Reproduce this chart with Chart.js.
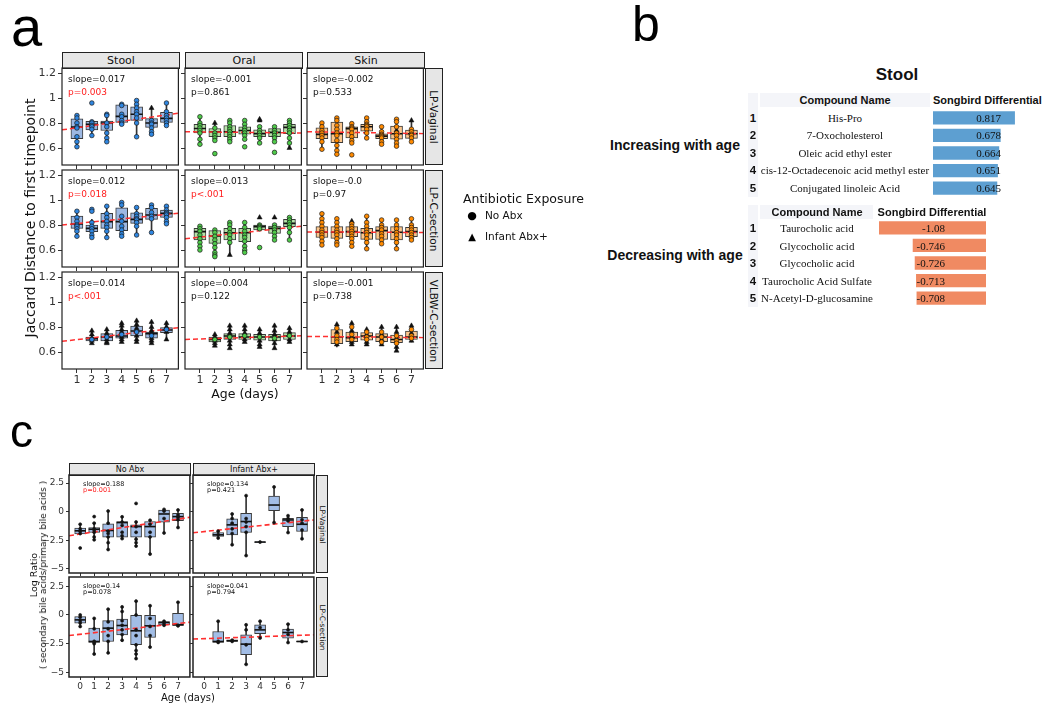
<!DOCTYPE html>
<html>
<head>
<meta charset="utf-8">
<script src="https://cdn.jsdelivr.net/npm/chart.js@4.4.1/dist/chart.umd.min.js"></script>
<style>
body { margin: 0; background: #fff; }
#fig { position: relative; width: 1050px; height: 709px; overflow: hidden; font-family: 'DejaVu Sans', sans-serif; }
#fig canvas { position: absolute; }
.t { position: absolute; white-space: nowrap; line-height: 1; }
.strip { position: absolute; background: #e6e6e6; border: 1px solid #222; box-sizing: border-box;
         display: flex; align-items: center; justify-content: center; color: #111; white-space: nowrap; }
.cell { position: absolute; background: #f4f5f9; }
</style>
</head>
<body>
<div id="fig"></div>
<script>
// ---- data: panel a (Jaccard distance to first timepoint) ----
const days = [1, 2, 3, 4, 5, 6, 7];
const yTicksA = [0.6, 0.8, 1, 1.2];
const colNamesA = ['Stool', 'Oral', 'Skin'];
const rowNamesA = ['LP-Vaginal', 'LP-C-section', 'VLBW-C-section'];

const stoolVag = {
  q1:  [0.674, 0.745, 0.74, 0.805, 0.82, 0.765, 0.805],
  med: [0.767, 0.79, 0.80, 0.853, 0.87, 0.80, 0.837],
  q3:  [0.834, 0.813, 0.815, 0.945, 0.93, 0.835, 0.885],
  lo:  [0.60, 0.69, 0.65, 0.79, 0.69, 0.71, 0.77],
  hi:  [0.86, 0.82, 0.87, 0.955, 0.98, 0.92, 0.96],
  dots: [[0.86, 0.84, 0.80, 0.77, 0.76, 0.69, 0.65, 0.61], [0.96, 0.81, 0.80, 0.78, 0.77, 0.75, 0.70],
         [0.87, 0.86, 0.80, 0.77, 0.72, 0.68, 0.65], [0.95, 0.94, 0.87, 0.85, 0.82, 0.80, 0.79],
         [0.98, 0.95, 0.92, 0.89, 0.87, 0.84, 0.80, 0.69], [0.82, 0.80, 0.79, 0.76, 0.73, 0.71],
         [0.96, 0.89, 0.86, 0.84, 0.82, 0.80, 0.78]],
  tri: [[], [], [], [], [], [0.92], []],
  fit: [0.745, 0.878], slope: 'slope=0.017', p: 'p=0.003', sig: true
};
const oralVag = {
  q1:  [0.72, 0.69, 0.69, 0.71, 0.69, 0.69, 0.715],
  med: [0.756, 0.73, 0.73, 0.74, 0.715, 0.725, 0.765],
  q3:  [0.79, 0.756, 0.78, 0.77, 0.745, 0.755, 0.79],
  lo:  [0.63, 0.66, 0.65, 0.67, 0.64, 0.65, 0.60],
  hi:  [0.85, 0.80, 0.82, 0.82, 0.775, 0.77, 0.83],
  dots: [[0.85, 0.80, 0.78, 0.76, 0.74, 0.72, 0.67, 0.63], [0.76, 0.72, 0.70, 0.68, 0.66, 0.555],
         [0.82, 0.80, 0.77, 0.75, 0.73, 0.71, 0.69, 0.67, 0.65], [0.82, 0.79, 0.76, 0.74, 0.72, 0.70, 0.67, 0.61],
         [0.77, 0.74, 0.72, 0.70, 0.68, 0.64], [0.77, 0.74, 0.72, 0.70, 0.68, 0.65, 0.565],
         [0.82, 0.80, 0.78, 0.76, 0.74, 0.72, 0.68, 0.64]],
  tri: [[], [0.80], [], [], [0.83, 0.82], [], [0.60]],
  fit: [0.73, 0.72], slope: 'slope=-0.001', p: 'p=0.861', sig: false
};
const skinVag = {
  q1:  [0.674, 0.642, 0.68, 0.735, 0.674, 0.67, 0.677],
  med: [0.709, 0.714, 0.755, 0.77, 0.695, 0.714, 0.714],
  q3:  [0.762, 0.807, 0.77, 0.79, 0.714, 0.775, 0.743],
  lo:  [0.59, 0.55, 0.64, 0.675, 0.63, 0.615, 0.647],
  hi:  [0.807, 0.847, 0.795, 0.84, 0.77, 0.83, 0.82],
  dots: [[0.80, 0.77, 0.74, 0.72, 0.70, 0.68, 0.65, 0.59], [0.84, 0.82, 0.78, 0.75, 0.72, 0.70, 0.66, 0.62, 0.58, 0.55],
         [0.795, 0.77, 0.76, 0.75, 0.72, 0.69, 0.66, 0.64, 0.545], [0.84, 0.81, 0.79, 0.78, 0.77, 0.75, 0.72, 0.68],
         [0.77, 0.73, 0.71, 0.70, 0.69, 0.68, 0.65, 0.63], [0.83, 0.81, 0.77, 0.72, 0.70, 0.67, 0.64, 0.615],
         [0.75, 0.73, 0.71, 0.70, 0.68, 0.65]],
  tri: [[], [], [], [], [], [0.74], [0.82]],
  fit: [0.73, 0.715], slope: 'slope=-0.002', p: 'p=0.533', sig: false
};
const stoolCs = {
  q1:  [0.773, 0.747, 0.773, 0.755, 0.813, 0.845, 0.861],
  med: [0.808, 0.773, 0.827, 0.827, 0.845, 0.88, 0.893],
  q3:  [0.872, 0.80, 0.893, 0.938, 0.898, 0.933, 0.92],
  lo:  [0.712, 0.70, 0.70, 0.712, 0.72, 0.74, 0.813],
  hi:  [0.912, 0.845, 0.952, 0.98, 0.938, 0.965, 0.955],
  dots: [[0.91, 0.86, 0.83, 0.80, 0.79, 0.77, 0.75, 0.71], [0.925, 0.91, 0.82, 0.79, 0.77, 0.75, 0.72, 0.70],
         [0.95, 0.89, 0.86, 0.83, 0.80, 0.78, 0.75, 0.70], [0.98, 0.96, 0.87, 0.83, 0.79, 0.76, 0.73, 0.71],
         [0.94, 0.89, 0.87, 0.85, 0.84, 0.82, 0.79, 0.72], [0.96, 0.94, 0.90, 0.87, 0.85, 0.74],
         [0.95, 0.92, 0.90, 0.89, 0.88, 0.86, 0.83, 0.81]],
  tri: [[], [], [], [], [], [], []],
  fit: [0.80, 0.894], slope: 'slope=0.012', p: 'p=0.018', sig: true
};
const oralCs = {
  q1:  [0.68, 0.653, 0.68, 0.667, 0.76, 0.733, 0.787],
  med: [0.747, 0.712, 0.738, 0.738, 0.787, 0.773, 0.813],
  q3:  [0.773, 0.755, 0.773, 0.773, 0.80, 0.792, 0.845],
  lo:  [0.60, 0.547, 0.56, 0.578, 0.76, 0.68, 0.68],
  hi:  [0.792, 0.76, 0.827, 0.827, 0.80, 0.80, 0.86],
  dots: [[0.79, 0.77, 0.75, 0.72, 0.69, 0.66, 0.63, 0.60], [0.76, 0.74, 0.71, 0.68, 0.65, 0.62, 0.58, 0.56, 0.547],
         [0.82, 0.80, 0.77, 0.74, 0.72, 0.69, 0.66], [0.82, 0.78, 0.75, 0.72, 0.70, 0.67, 0.63, 0.60, 0.58],
         [0.80, 0.79, 0.78, 0.77, 0.62], [0.80, 0.78, 0.76, 0.74, 0.71, 0.68],
         [0.86, 0.84, 0.82, 0.80, 0.78, 0.74, 0.68]],
  tri: [[], [], [0.56], [], [0.86], [0.86], []],
  fit: [0.69, 0.79], slope: 'slope=0.013', p: 'p<.001', sig: true
};
const skinCs = {
  q1:  [0.70, 0.693, 0.707, 0.685, 0.685, 0.68, 0.707],
  med: [0.742, 0.742, 0.747, 0.738, 0.755, 0.742, 0.747],
  q3:  [0.787, 0.787, 0.787, 0.773, 0.787, 0.787, 0.782],
  lo:  [0.626, 0.64, 0.626, 0.613, 0.648, 0.613, 0.675],
  hi:  [0.893, 0.853, 0.832, 0.867, 0.84, 0.84, 0.853],
  dots: [[0.89, 0.85, 0.82, 0.79, 0.76, 0.74, 0.72, 0.70, 0.67, 0.64], [0.85, 0.82, 0.79, 0.76, 0.74, 0.72, 0.69, 0.66, 0.64],
         [0.81, 0.79, 0.77, 0.75, 0.73, 0.71, 0.69, 0.66, 0.63], [0.87, 0.82, 0.79, 0.76, 0.74, 0.72, 0.69, 0.66, 0.61],
         [0.84, 0.80, 0.78, 0.76, 0.73, 0.71, 0.68, 0.65], [0.84, 0.80, 0.77, 0.74, 0.72, 0.69, 0.66, 0.61],
         [0.85, 0.80, 0.78, 0.76, 0.74, 0.72, 0.70, 0.68]],
  tri: [[], [], [0.83], [], [], [], []],
  fit: [0.745, 0.74], slope: 'slope=-0.0', p: 'p=0.97', sig: false
};
const stoolVlbw = {
  q1:  [null, 0.688, 0.688, 0.71, 0.728, 0.71, 0.755],
  med: [null, 0.707, 0.72, 0.728, 0.768, 0.747, 0.776],
  q3:  [null, 0.72, 0.747, 0.773, 0.808, 0.76, 0.795],
  lo:  [null, 0.667, 0.667, 0.675, 0.683, 0.667, 0.696],
  hi:  [null, 0.768, 0.78, 0.835, 0.853, 0.84, 0.84],
  dots: [[], [0.70], [0.72], [0.74], [0.76], [0.73], [0.78]],
  tri: [[], [0.77, 0.74, 0.71, 0.69, 0.67], [0.78, 0.75, 0.73, 0.70, 0.68, 0.67],
        [0.83, 0.81, 0.78, 0.76, 0.72, 0.70, 0.68], [0.85, 0.82, 0.79, 0.77, 0.73, 0.70, 0.68],
        [0.84, 0.80, 0.77, 0.75, 0.71, 0.69, 0.67], [0.83, 0.80, 0.79, 0.76, 0.70]],
  fit: [0.685, 0.794], slope: 'slope=0.014', p: 'p<.001', sig: true
};
const oralVlbw = {
  q1:  [null, 0.68, 0.70, 0.70, 0.694, 0.688, 0.70],
  med: [null, 0.70, 0.728, 0.72, 0.72, 0.72, 0.728],
  q3:  [null, 0.72, 0.747, 0.747, 0.741, 0.741, 0.755],
  lo:  [null, 0.648, 0.63, 0.675, 0.64, 0.63, 0.675],
  hi:  [null, 0.741, 0.808, 0.816, 0.78, 0.808, 0.795],
  dots: [[], [0.70], [0.72], [0.73], [0.72], [0.71], [0.73]],
  tri: [[], [0.74, 0.72, 0.69, 0.67, 0.65], [0.81, 0.78, 0.75, 0.73, 0.69, 0.66, 0.63],
        [0.81, 0.78, 0.75, 0.70, 0.68], [0.78, 0.75, 0.73, 0.69, 0.66, 0.64],
        [0.81, 0.77, 0.74, 0.70, 0.67, 0.63], [0.79, 0.76, 0.74, 0.70, 0.68]],
  fit: [0.70, 0.73], slope: 'slope=0.004', p: 'p=0.122', sig: false
};
const skinVlbw = {
  q1:  [null, 0.667, 0.683, 0.694, 0.683, 0.675, 0.70],
  med: [null, 0.72, 0.715, 0.728, 0.72, 0.70, 0.72],
  q3:  [null, 0.78, 0.76, 0.755, 0.747, 0.736, 0.768],
  lo:  [null, 0.64, 0.661, 0.661, 0.656, 0.608, 0.68],
  hi:  [null, 0.82, 0.835, 0.78, 0.80, 0.80, 0.808],
  dots: [[], [0.79, 0.73, 0.70, 0.68], [0.80, 0.74, 0.70], [0.76, 0.72, 0.70], [0.76, 0.72, 0.68],
         [0.73, 0.69, 0.67], [0.78, 0.73, 0.71]],
  tri: [[], [0.82, 0.76, 0.66], [0.83, 0.77, 0.72, 0.68, 0.66], [0.78, 0.74, 0.68, 0.66],
        [0.80, 0.74, 0.70, 0.66], [0.80, 0.76, 0.71, 0.64, 0.61], [0.81, 0.75, 0.69]],
  fit: [0.725, 0.715], slope: 'slope=-0.001', p: 'p=0.738', sig: false
};

// ---- data: panel b (Songbird differentials, stool) ----
const upNames = ['His-Pro', '7-Oxocholesterol', 'Oleic acid ethyl ester',
                 'cis-12-Octadecenoic acid methyl ester', 'Conjugated linoleic Acid'];
const upVals = [0.817, 0.678, 0.664, 0.651, 0.645];
const downNames = ['Taurocholic acid', 'Glycocholic acid', 'Glycocholic acid',
                   'Taurocholic Acid Sulfate', 'N-Acetyl-D-glucosamine'];
const downVals = [-1.08, -0.746, -0.726, -0.713, -0.708];

// ---- data: panel c (log ratio secondary / primary bile acids) ----
const daysC = [0, 1, 2, 3, 4, 5, 6, 7];
const yTicksC = [-5, -2.5, 0, 2.5];
const colNamesC = ['No Abx', 'Infant Abx+'];
const rowNamesC = ['LP-Vaginal', 'LP-C-section'];

const cNoAbxVag = {
  q1:  [-1.93, -1.82, -2.22, -2.22, -2.22, -2.22, -0.92, -0.78],
  med: [-1.67, -1.53, -1.64, -0.95, -1.30, -1.30, -0.20, -0.43],
  q3:  [-1.44, -1.38, -1.07, -0.86, -1.15, -0.86, 0.14, -0.14],
  lo:  [-2.02, -2.45, -3.31, -2.36, -2.97, -3.69, -1.87, -1.38],
  hi:  [-1.07, -1.00, 0.09, -0.43, -0.86, -0.72, 0.23, 0.20],
  dots: [[-1.1, -1.5, -1.7, -1.9, -3.17], [-0.43, -1.0, -1.5, -1.6, -1.8, -2.2, -2.45], [0.05, -1.0, -1.7, -1.9, -2.2, -2.7, -3.3],
         [-0.45, -0.9, -1.2, -1.8, -2.1, -2.35], [0.72, -0.9, -1.3, -1.8, -2.4, -2.7, -3.0], [-0.75, -1.1, -1.8, -2.2, -3.7],
         [0.2, 0.05, -0.6, -1.85], [0.15, -0.3, -0.5, -0.7, -1.38]],
  fit: [-2.1, -0.49], slope: 'slope=0.188', p: 'p=0.001', sig: true
};
const cAbxVag = {
  q1:  [null, -2.16, -2.02, -1.82, -2.68, 0.09, -1.30, -1.73],
  med: [null, -2.02, -1.15, -0.86, -2.65, 0.58, -0.72, -1.10],
  q3:  [null, -1.82, -0.63, -0.14, -2.62, 1.35, -0.58, -0.49],
  lo:  [null, -2.36, -2.88, -3.83, -2.65, -0.95, -1.82, -2.36],
  hi:  [null, -1.64, -0.14, 1.44, -2.65, 2.16, -0.35, 0.20],
  dots: [[], [-1.7, -2.0, -2.3], [-0.2, -0.6, -1.0, -1.5, -1.9, -2.88], [1.4, -0.6, -0.9, -1.3, -1.8, -3.83], [-2.65],
         [2.16, -0.95], [-0.35, -0.6, -0.8, -1.82], [0.15, -0.7, -1.0, -1.6, -2.36]],
  fit: [-1.84, -0.72], slope: 'slope=0.134', p: 'p=0.421', sig: false
};
const cNoAbxCs = {
  q1:  [-0.72, -2.39, -2.31, -1.73, -2.59, -1.96, -0.86, -0.92],
  med: [-0.43, -2.31, -1.15, -0.92, -1.38, -0.95, -0.66, -0.86],
  q3:  [-0.14, -1.15, -0.49, -0.37, 0, 0, -0.58, 0.14],
  lo:  [-1.07, -3.46, -3.31, -2.31, -3.89, -2.80, -0.95, -0.95],
  hi:  [0, -0.23, 0.52, 0.78, 1.30, 0.86, -0.50, 1.15],
  dots: [[0, -0.2, -0.5, -0.7, -1.0], [-0.3, -1.2, -2.3, -2.4, -2.5, -3.4], [0.5, -0.6, -1.2, -1.8, -2.3, -3.3],
         [0.7, 0.3, -0.5, -0.9, -1.3, -1.7, -2.2], [1.2, 0, -1.3, -1.8, -2.6, -3.1, -3.4, -3.8], [0.8, -0.3, -1.0, -1.8, -2.8],
         [-0.55, -0.7, -0.9], [1.1, -0.9, -0.95]],
  fit: [-1.79, -0.63], slope: 'slope=0.14', p: 'p=0.078', sig: false
};
const cAbxCs = {
  q1:  [null, -2.39, -2.31, -3.46, -1.64, null, -2.02, -2.34],
  med: [null, -2.31, -2.25, -2.54, -1.30, null, -1.53, -2.31],
  q3:  [null, -1.44, -2.16, -1.73, -0.86, null, -1.24, -2.28],
  lo:  [null, -2.39, -2.31, -4.32, -2.02, null, -2.39, -2.33],
  hi:  [null, -0.52, -2.16, -0.86, -0.52, null, -0.78, -2.29],
  dots: [[], [-0.55, -2.3, -2.39], [-2.2, -2.25, -2.3], [-0.86, -1.3, -2.6, -4.3], [-0.55, -1.1, -2.0], [],
         [-0.8, -1.3, -1.7, -2.4], [-2.31]],
  fit: [-2.1, -1.73], slope: 'slope=0.041', p: 'p=0.794', sig: false
};

// ---- helpers ----
Chart.defaults.font.family = "'DejaVu Sans', sans-serif";
const fig = document.getElementById('fig');

function txt(s, x, y, o) {
  const e = document.createElement('div');
  e.className = 't';
  e.textContent = s;
  e.style.left = x + 'px';
  e.style.top = y + 'px';
  const tx = o.a === 'l' ? '0' : (o.a === 'r' ? '-100%' : '-50%');
  e.style.transform = 'translate(' + tx + ',-50%)' + (o.rot ? ' rotate(' + o.rot + 'deg)' : '');
  e.style.font = o.font;
  e.style.color = o.color || '#111';
  fig.appendChild(e);
  return e;
}

function strip(s, x, y, w, h, font, rot) {
  const e = document.createElement('div');
  e.className = 'strip';
  e.style.left = x + 'px'; e.style.top = y + 'px';
  e.style.width = w + 'px'; e.style.height = h + 'px';
  e.style.font = font;
  const sp = document.createElement('span');
  sp.textContent = s;
  if (rot) sp.style.transform = 'rotate(' + rot + 'deg)';
  e.appendChild(sp);
  fig.appendChild(e);
}

function box(x, y, w, h, cls) {
  const e = document.createElement('div');
  e.className = cls;
  e.style.left = x + 'px'; e.style.top = y + 'px';
  e.style.width = w + 'px'; e.style.height = h + 'px';
  fig.appendChild(e);
}

// frame around the plotting area
const framePlugin = {
  id: 'frame',
  afterDatasetsDraw(chart, args, opts) {
    const { ctx, chartArea: a } = chart;
    ctx.save();
    ctx.strokeStyle = opts.color;
    ctx.lineWidth = opts.width;
    ctx.strokeRect(a.left, a.top, a.right - a.left, a.bottom - a.top);
    ctx.restore();
  }
};

// one facet: boxes (floating bars), whiskers, medians, points, fitted line
function boxPanel(c) {
  const cw = c.w + c.yw + c.pr, ch = c.h + c.pt + c.xh;
  const cv = document.createElement('canvas');
  cv.width = cw; cv.height = ch;
  cv.style.left = (c.left - c.yw) + 'px';
  cv.style.top = (c.top - c.pt) + 'px';
  cv.style.width = cw + 'px'; cv.style.height = ch + 'px';
  fig.appendChild(cv);

  const d = c.data, xs = c.xs;
  const idx = xs.map((x, i) => i).filter(i => d.q1[i] !== null);
  const pts = [], tri = [];
  d.dots.forEach((arr, i) => arr.forEach(v => pts.push({ x: xs[i], y: v })));
  (d.tri || []).forEach((arr, i) => arr.forEach(v => tri.push({ x: xs[i], y: v })));

  const tickFont = { family: "'DejaVu Sans', sans-serif", size: c.fs };
  const grid = { offset: false, drawOnChartArea: false, drawTicks: true, tickLength: c.tl, color: '#333', tickWidth: 1 };

  new Chart(cv, {
    type: 'bar',
    data: {
      datasets: [
        { type: 'scatter', data: pts, pointStyle: 'circle', pointRadius: c.r,
          pointBackgroundColor: c.dot, pointBorderColor: '#1a1a1a', pointBorderWidth: 0.7, order: 1 },
        { type: 'scatter', data: tri, pointStyle: 'triangle', pointRadius: c.r + 0.6,
          pointBackgroundColor: '#111', pointBorderColor: '#111', pointBorderWidth: 0.5, order: 1 },
        { type: 'line', data: [{ x: c.xMin, y: d.fit[0] }, { x: c.xMax, y: d.fit[1] }],
          borderColor: '#ff3030', borderWidth: c.lw, borderDash: [5, 3], pointRadius: 0, order: 2 },
        { type: 'scatter', data: idx.map(i => ({ x: xs[i], y: d.med[i] })), pointStyle: 'line',
          pointRadius: c.bw / 2, pointBorderColor: '#111', pointBorderWidth: 1.6, order: 3 },
        { data: idx.map(i => ({ x: xs[i], y: [d.q1[i], d.q3[i]] })), backgroundColor: c.fill,
          borderColor: '#3a3a3a', borderWidth: 1, borderSkipped: false, barThickness: c.bw, grouped: false, order: 4 },
        { data: idx.map(i => ({ x: xs[i], y: [d.lo[i], d.hi[i]] })), backgroundColor: '#333',
          barThickness: 1, grouped: false, order: 5 }
      ]
    },
    options: {
      responsive: false, animation: false, events: [],
      layout: { padding: { top: c.pt, right: c.pr, left: 0, bottom: 0 } },
      plugins: { legend: { display: false }, tooltip: { enabled: false }, frame: { color: '#222', width: c.fw } },
      scales: {
        x: {
          type: 'linear', min: c.xMin, max: c.xMax, offset: false,
          afterBuildTicks: s => { s.ticks = c.xTicks.map(v => ({ value: v })); },
          afterFit: s => { s.height = c.xh; },
          grid: grid, border: { display: false },
          ticks: { display: c.showX, padding: 1, color: '#333', font: tickFont, maxRotation: 0, autoSkip: false }
        },
        y: {
          type: 'linear', min: c.yMin, max: c.yMax,
          afterBuildTicks: s => { s.ticks = c.yTicks.map(v => ({ value: v })); },
          afterFit: s => { s.width = c.yw; },
          grid: grid, border: { display: false },
          ticks: { display: c.showY, padding: 2, color: '#333', font: tickFont, autoSkip: false, callback: c.fmt }
        }
      }
    },
    plugins: [framePlugin]
  });
}

// horizontal bars of the differential tables
function diffBars(vals, left, top, w, h, min, max, color) {
  const cv = document.createElement('canvas');
  cv.width = w; cv.height = h;
  cv.style.left = left + 'px'; cv.style.top = top + 'px';
  cv.style.width = w + 'px'; cv.style.height = h + 'px';
  fig.appendChild(cv);
  new Chart(cv, {
    type: 'bar',
    data: {
      labels: vals.map((v, i) => String(i + 1)),
      datasets: [{ data: vals, backgroundColor: color, borderColor: 'rgba(255,255,255,0.6)', borderWidth: 1,
                   borderSkipped: false, categoryPercentage: 1, barPercentage: 0.87 }]
    },
    options: {
      indexAxis: 'y', responsive: false, animation: false, events: [],
      layout: { padding: 0 },
      plugins: { legend: { display: false }, tooltip: { enabled: false } },
      scales: { x: { display: false, min: min, max: max }, y: { display: false } }
    }
  });
}

// ================= panel a =================
txt('a', 11, 26, { a: 'l', font: '56px "Liberation Sans", Arial, sans-serif', color: '#000' });
const aCols = [62, 185, 307], aRows = [68, 170, 272];
const aW = 118, aH = 97;
const aFill = ['#9db8e2', '#b6e2a8', '#fcc68c'];
const aDot = ['#2f86e0', '#4fcb4a', '#ff8a00'];
const aGrid = [[stoolVag, oralVag, skinVag], [stoolCs, oralCs, skinCs], [stoolVlbw, oralVlbw, skinVlbw]];

colNamesA.forEach((n, k) => strip(n, aCols[k], 52, aW, 17, '11px "DejaVu Sans", sans-serif'));
rowNamesA.forEach((n, r) => strip(n, 425, aRows[r], 18, aH, '10.5px "DejaVu Sans", sans-serif', 90));

aGrid.forEach((row, r) => row.forEach((d, k) => {
  boxPanel({
    left: aCols[k], top: aRows[r], w: aW, h: aH, data: d, xs: days,
    xMin: 0, xMax: 7.8, yMin: 0.464, yMax: 1.24, xTicks: days, yTicks: yTicksA,
    showX: r === 2, showY: k === 0, fill: aFill[k], dot: aDot[k], bw: 12, r: 2.3, lw: 1.5,
    yw: 34, pt: 12, pr: 6, xh: 20, tl: 4, fs: 11, fw: 1.2, fmt: v => String(v)
  });
  txt(d.slope, aCols[k] + 6, aRows[r] + 11, { a: 'l', font: '9px "DejaVu Sans", sans-serif', color: '#111' });
  txt(d.p, aCols[k] + 6, aRows[r] + 24, { a: 'l', font: '9px "DejaVu Sans", sans-serif', color: d.sig ? '#ff2020' : '#111' });
}));

txt('Age (days)', 245, 393, { a: 'c', font: '12.5px "DejaVu Sans", sans-serif', color: '#111' });
txt('Jaccard Distance to first timepoint', 30, 218, { a: 'c', rot: -90, font: '14px "DejaVu Sans", sans-serif', color: '#111' });

txt('Antibiotic Exposure', 463, 198, { a: 'l', font: '12.5px "DejaVu Sans", sans-serif', color: '#111' });
txt('\u25CF', 472, 215, { a: 'c', font: '11px "DejaVu Sans", sans-serif', color: '#000' });
txt('No Abx', 485, 215, { a: 'l', font: '10.5px "DejaVu Sans", sans-serif', color: '#111' });
txt('\u25B2', 472, 236, { a: 'c', font: '10px "DejaVu Sans", sans-serif', color: '#000' });
txt('Infant Abx+', 485, 236, { a: 'l', font: '10.5px "DejaVu Sans", sans-serif', color: '#111' });

// ================= panel b =================
txt('b', 632, 24, { a: 'l', font: '50px "Liberation Sans", Arial, sans-serif', color: '#000' });
txt('Stool', 897, 75, { a: 'c', font: 'bold 17px "Liberation Sans", Arial, sans-serif', color: '#111' });
txt('Increasing with age', 675, 145, { a: 'c', font: 'bold 14px "Liberation Sans", Arial, sans-serif', color: '#111' });
txt('Decreasing with age', 675, 255, { a: 'c', font: 'bold 14px "Liberation Sans", Arial, sans-serif', color: '#111' });

const hdrFont = 'bold 11px "Liberation Sans", Arial, sans-serif';
const numFont = 'bold 11.5px "Liberation Sans", Arial, sans-serif';
const nameFont = '11px "Liberation Serif", "Times New Roman", serif';
const rowH = 17.6;

// upper table
box(748, 93, 10, 104, 'cell');
box(760, 93, 170, 14, 'cell');
txt('Compound Name', 845, 100, { a: 'c', font: hdrFont, color: '#111' });
txt('Songbird Differential', 933, 100, { a: 'l', font: hdrFont, color: '#111' });
diffBars(upVals, 932, 117.5 - rowH / 2, 113, rowH * 5, 0, 1.1, '#5d9fd1');
upNames.forEach((n, i) => {
  const y = 117.5 + i * rowH;
  txt(String(i + 1), 753, y, { a: 'c', font: numFont, color: '#111' });
  txt(n, 845, y, { a: 'c', font: nameFont, color: '#111' });
  txt(String(upVals[i]), 1001, y, { a: 'r', font: nameFont, color: '#111' });
});

// lower table
box(748, 205, 10, 102, 'cell');
box(760, 205, 113, 14, 'cell');
txt('Compound Name', 817, 212, { a: 'c', font: hdrFont, color: '#111' });
txt('Songbird Differential', 932, 212, { a: 'c', font: hdrFont, color: '#111' });
diffBars(downVals, 877, 228 - rowH / 2, 110, rowH * 5, -1.09, 0, '#f08a62');
downNames.forEach((n, i) => {
  const y = 228 + i * rowH;
  txt(String(i + 1), 753, y, { a: 'c', font: numFont, color: '#111' });
  txt(n, 817, y, { a: 'c', font: nameFont, color: '#111' });
  txt(String(downVals[i]), 945, y, { a: 'r', font: nameFont, color: '#111' });
});

// ================= panel c =================
txt('c', 10, 431, { a: 'l', font: '46px "Liberation Sans", Arial, sans-serif', color: '#000' });
const cCols = [69, 193], cW = 122;
const cRows = [{ top: 475, h: 98, yMin: -5.35, yMax: 3.2 }, { top: 577, h: 100, yMin: -5.4, yMax: 3.3 }];
const cGrid = [[cNoAbxVag, cAbxVag], [cNoAbxCs, cAbxCs]];

colNamesC.forEach((n, k) => strip(n, cCols[k], 463, cW, 13, '8px "DejaVu Sans", sans-serif'));
rowNamesC.forEach((n, r) => strip(n, 316, cRows[r].top, 12, cRows[r].h, '7.5px "DejaVu Sans", sans-serif', 90));

cGrid.forEach((row, r) => row.forEach((d, k) => {
  const g = cRows[r];
  boxPanel({
    left: cCols[k], top: g.top, w: cW, h: g.h, data: d, xs: daysC,
    xMin: -0.8, xMax: 7.85, yMin: g.yMin, yMax: g.yMax, xTicks: daysC, yTicks: yTicksC,
    showX: r === 1, showY: k === 0, fill: '#a2bde6', dot: '#111', bw: 11, r: 1.5, lw: 1.6,
    yw: 26, pt: 10, pr: 6, xh: 16, tl: 3, fs: 9, fw: 1.5,
    fmt: v => String(v).replace('-', '\u2212')
  });
  txt(d.slope, cCols[k] + 14, g.top + 8.5, { a: 'l', font: '6.5px "DejaVu Sans", sans-serif', color: '#111' });
  txt(d.p, cCols[k] + 14, g.top + 15, { a: 'l', font: '6.5px "DejaVu Sans", sans-serif', color: d.sig ? '#ff2020' : '#111' });
}));

txt('Age (days)', 188, 697, { a: 'c', font: '10px "DejaVu Sans", sans-serif', color: '#111' });
txt('Log Ratio', 33, 575, { a: 'c', rot: -90, font: '9.5px "DejaVu Sans", sans-serif', color: '#111' });
txt('( secondary bile acids/primary bile acids )', 43, 575, { a: 'c', rot: -90, font: '9px "DejaVu Sans", sans-serif', color: '#111' });
</script>
</body>
</html>
